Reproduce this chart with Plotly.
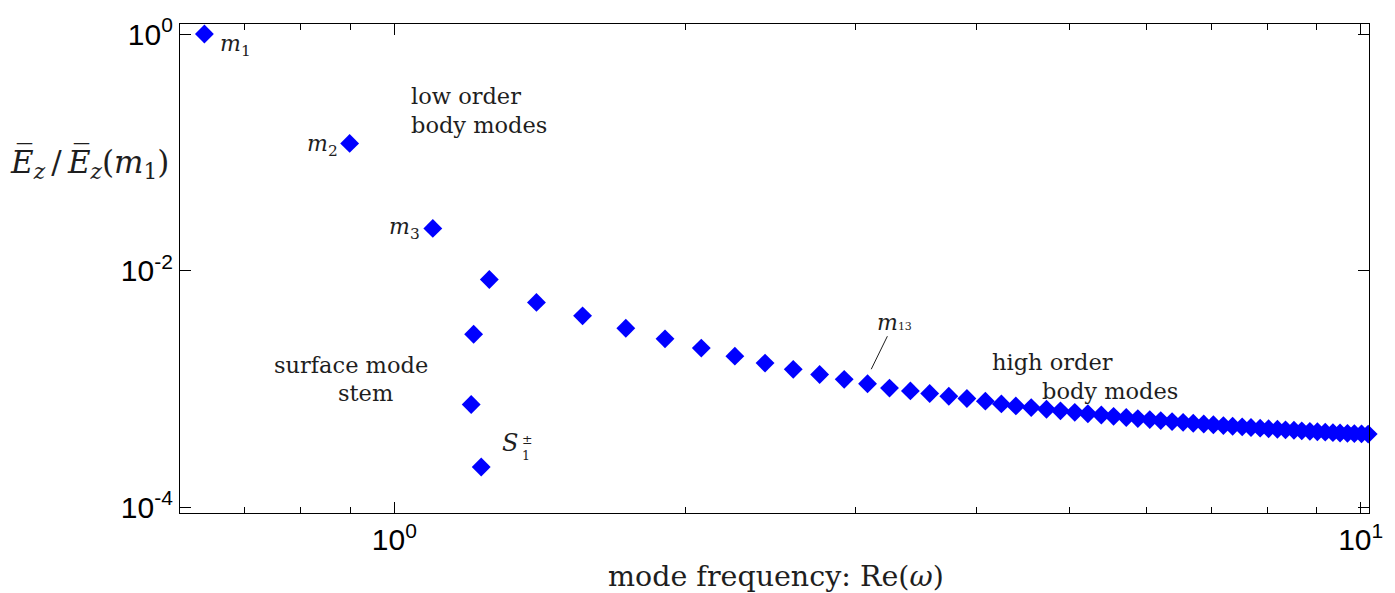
import plotly.graph_objects as go

# ---- data ----
mode_freq = [
    0.636, 0.899, 1.096,
    1.254, 1.208, 1.201, 1.230,
    1.403, 1.566, 1.736, 1.906, 2.078, 2.251, 2.419, 2.587, 2.755, 2.921, 3.088, 3.254,
    3.420, 3.581, 3.748, 3.913, 4.089, 4.248, 4.397, 4.561,
    4.73, 4.89, 5.06, 5.22, 5.39, 5.55, 5.72, 5.88, 6.05, 6.21,
    6.38, 6.55, 6.71, 6.88, 7.04, 7.21, 7.37, 7.54, 7.70, 7.87,
    8.03, 8.20, 8.36, 8.53, 8.69, 8.86, 9.02, 9.19, 9.36, 9.52,
    9.69, 9.85, 10.02, 10.18,
]
energy_ratio = [
    1.0, 0.119, 0.0228,
    0.00844, 0.00291, 0.000741, 0.000220,
    0.00540, 0.00416, 0.00327, 0.00266, 0.00222, 0.00190, 0.00166, 0.00147, 0.00133, 0.00121, 0.00111, 0.00102,
    0.000966, 0.000918, 0.000871, 0.000834, 0.000791, 0.000750, 0.000721, 0.000698,
    0.000676, 0.000655, 0.000637, 0.000619, 0.000604, 0.000589, 0.000576, 0.000564, 0.000553, 0.000542,
    0.000532, 0.000524, 0.000515, 0.000507, 0.000500, 0.000492, 0.000486, 0.000480, 0.000474, 0.000468,
    0.000463, 0.000458, 0.000453, 0.000449, 0.000444, 0.000440, 0.000436, 0.000433, 0.000429, 0.000426,
    0.000423, 0.000421, 0.000419, 0.000417,
]

x_tickvals = [1, 10]
x_ticktext = ["10<sup>0</sup>", "10<sup>1</sup>"]
x_minor = [0.7, 0.8, 0.9, 2, 3, 4, 5, 6, 7, 8, 9]
y_tickvals = [1e-4, 1e-2, 1]
y_ticktext = ["10<sup>-4</sup>", "10<sup>-2</sup>", "10<sup>0</sup>"]

SERIF = "DejaVu Serif"
TXT = "#1e1e1e"

fig = go.Figure()
fig.add_trace(go.Scatter(
    x=mode_freq, y=energy_ratio, mode="markers",
    marker=dict(symbol="diamond", size=14.5, color="#0000ff", line=dict(width=0)),
    cliponaxis=False, showlegend=False,
))

tick_font = dict(family="Liberation Sans, Arial", size=30, color="black")
axis_common = dict(
    showgrid=False, zeroline=False, showline=True, linecolor="black", linewidth=1.3,
    ticks="inside", tickcolor="black", tickwidth=1, ticklen=11, mirror="allticks",
)

fig.update_xaxes(type="log", range=[-0.2218, 1.0086], tickmode="array",
                 tickvals=x_tickvals, ticktext=x_ticktext, tickfont=tick_font,
                 minor=dict(tickmode="array", tickvals=x_minor, ticks="inside",
                            ticklen=6, tickcolor="black", tickwidth=1),
                 **axis_common)
fig.update_yaxes(type="log", range=[-4.0465, 0.0845], tickmode="array",
                 tickvals=y_tickvals, ticktext=y_ticktext, tickfont=tick_font,
                 **axis_common)

def px_x(px):
    return (px - 180) / 1191.0

def px_y(py):
    return (512.7 - py) / 488.7

ann = []
def add(text, x, y, xanchor="left", size=22, align="left", **kw):
    ann.append(dict(text=text, x=px_x(x), y=px_y(y), xref="paper", yref="paper",
                    xanchor=xanchor, yanchor="middle", showarrow=False, align=align,
                    font=dict(family=SERIF, size=size, color=TXT), **kw))

add("<i>m</i><sub>1</sub>", 218, 45)
add("<i>m</i><sub>2</sub>", 340, 145, xanchor="right")
add("<i>m</i><sub>3</sub>", 422, 228, xanchor="right")
add("low order<br>body modes", 409, 110, size=22.5)
add("surface mode", 351, 365, xanchor="center", size=22.5)
add("stem", 366, 393, xanchor="center", size=22.5)
add("<i>S</i>", 521, 443, xanchor="right", size=24)
add("±<br>1", 521, 447, size=12.5)
add("high order", 991, 362, size=22.5)
add("body modes", 1041, 391, size=22.5)
add("<i>E̅</i><sub><i>z</i></sub>\u2009/\u2009<i>E̅</i><sub><i>z</i></sub>(<i>m</i><sub>1</sub>)",
    8, 163, size=31)
add("mode frequency: Re(<i>ω</i>)", 777, 576, xanchor="center", size=28.5)

# m13 label with leader line
ann.append(dict(text="<i>m</i><span style='font-size:11px'>13</span>",
                x=px_x(872.4), y=px_y(369), xref="paper", yref="paper",
                ax=23, ay=-47, showarrow=True, arrowhead=0, arrowwidth=1,
                arrowcolor=TXT, standoff=0,
                font=dict(family=SERIF, size=22, color=TXT)))

fig.update_layout(
    width=1395, height=593,
    margin=dict(l=180, r=24, t=24, b=80, pad=0),
    plot_bgcolor="white", paper_bgcolor="white",
    annotations=ann,
)

fig.write_html("out.html", config={"displayModeBar": False},
               post_script="document.body.style.margin='0';")
